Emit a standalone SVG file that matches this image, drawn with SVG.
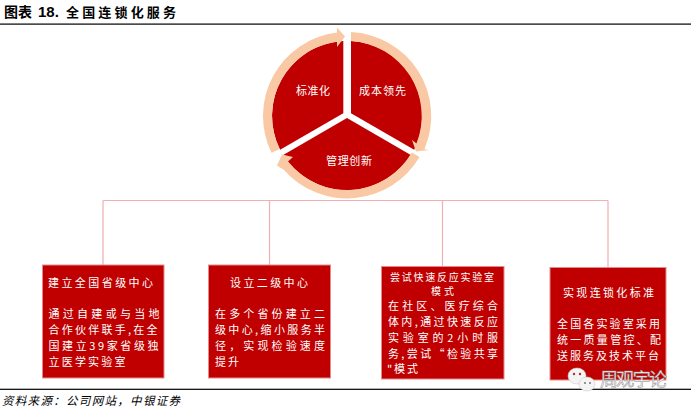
<svg xmlns="http://www.w3.org/2000/svg" width="691" height="412" viewBox="0 0 691 412">
<style>
text{font-family:"Noto Sans CJK SC","Liberation Sans",sans-serif}
.box{fill:#c00000;stroke:#e58a8a;stroke-width:1}
.w{fill:#fff;font-size:11px}
.h{fill:#fff;font-size:11px}
.t{fill:#fff;font-size:10px}
.s{fill:#c00000}
.r{fill:#f8c9a4}
.c{fill:none;stroke:#eeb0b0;stroke-width:1.2}
</style>
<rect width="691" height="412" fill="#fff"/>
<g id="header">
<text x="4" y="17" font-size="14" font-weight="700" textLength="28">图表</text>
<text x="38" y="17" font-size="15" font-weight="700" style="font-family:'Liberation Sans',sans-serif">18.</text>
<text x="66" y="17" font-size="13" font-weight="700" textLength="110">全国连锁化服务</text>
<rect x="0" y="23.500" width="691" height="1.200" fill="#000"/>
</g>
<g id="connectors">
<path class="c" d="M103 200.500H608M103 200.500V265M269.500 200.500V265M442.500 200.500V266M608 200.500V267"/>
</g>
<g id="cycle">
<path id="sector-standard" class="s" d="M343.300 113.300V40.900A75.200 75.200 0 0 0 280.100 149.800Z"/>
<path id="sector-cost" class="s" d="M351 113.300V40.900A75.200 75.200 0 0 1 414.200 149.800Z"/>
<path id="sector-manage" class="s" d="M347 119L410.800 155.900A75.200 75.200 0 0 1 283.200 155.900Z" transform="translate(0,-1)"/>
<path id="arrow-left" class="r" d="M271.500 152.800A84 84 0 0 1 337 32.600V27.500L345 36.500L337 47V41.700A75 75 0 0 0 279.600 148.900Z"/>
<path id="arrow-right" class="r" d="M351 32.100A84 84 0 0 1 424.500 149L428.500 150L416 151.500L412 140L416.500 143.500A75 75 0 0 0 351 41.100Z"/>
<path id="arrow-bottom" class="r" d="M419.500 158.400A84 84 0 0 1 284 171.500L277 167L282 156L293 158.500L288 163A75 75 0 0 0 411.800 154Z" transform="translate(0,-1.500)"/>
<text class="w" x="296" y="95" textLength="34">标准化</text>
<text class="w" x="359" y="95" textLength="47">成本领先</text>
<text class="w" x="326" y="165" textLength="46">管理创新</text>
</g>
<g id="node-province">
<rect class="box" x="42.500" y="265" width="121.500" height="113"/>
<text class="h" x="48" y="287" textLength="105">建立全国省级中心</text>
<text class="w" x="48.500" y="318" textLength="111">通过自建或与当地</text>
<text class="w" x="48.500" y="334" textLength="109">合作伙伴联手,在全</text>
<text class="w" x="48.500" y="350" textLength="110">国建立39家省级独</text>
<text class="w" x="48.500" y="366" textLength="77">立医学实验室</text>
</g>
<g id="node-second">
<rect class="box" x="208.500" y="265" width="122" height="113"/>
<text class="h" x="230" y="287" textLength="78">设立二级中心</text>
<text class="w" x="215" y="318" textLength="110">在多个省份建立二</text>
<text class="w" x="215" y="334" textLength="110">级中心,缩小服务半</text>
<text class="w" x="215" y="350" textLength="110">径，实现检验速度</text>
<text class="w" x="215" y="366" textLength="24">提升</text>
</g>
<g id="node-rapid">
<rect class="box" x="381.500" y="266.500" width="122.500" height="112.500"/>
<text class="t" x="390" y="280.500" textLength="104">尝试快速反应实验室</text>
<text class="t" x="431" y="295" textLength="23">模式</text>
<text class="w" x="388" y="310" textLength="110">在社区、医疗综合</text>
<text class="w" x="388" y="326" textLength="110">体内,通过快速反应</text>
<text class="w" x="388" y="342" textLength="110">实验室的2小时服</text>
<text class="w" x="388" y="358" textLength="110">务,尝试“检验共享</text>
<text class="w" x="387" y="373" textLength="31">"模式</text>
</g>
<g id="node-standard">
<rect class="box" x="550" y="267.500" width="116" height="112.500"/>
<text class="h" x="563" y="297" textLength="91">实现连锁化标准</text>
<text class="w" x="557" y="328" textLength="103">全国各实验室采用</text>
<text class="w" x="557" y="344" textLength="104">统一质量管控、配</text>
<text class="w" x="557" y="360" textLength="102">送服务及技术平台</text>
</g>
<g id="footer">
<rect x="0" y="388.700" width="691" height="1.200" fill="#000"/>
<text x="2" y="405" font-size="11.500" font-style="italic" fill="#000" textLength="178">资料来源：公司网站，中银证券</text>
</g>
<g id="watermark">
<ellipse cx="577" cy="376" rx="9" ry="8" fill="#f4f4f4" stroke="#ccc" stroke-width=".6"/>
<ellipse cx="587" cy="384" rx="8" ry="7" fill="#f4f4f4" stroke="#ccc" stroke-width=".6"/>
<circle cx="574" cy="374" r="1.200" fill="#a33"/>
<circle cx="580" cy="374" r="1.200" fill="#a33"/>
<circle cx="585" cy="383" r="1" fill="#777"/>
<circle cx="590" cy="383" r="1" fill="#777"/>
<text x="600" y="386" font-size="18" fill="#fff" stroke="#888" stroke-width=".5" textLength="67">周观宇论</text>
</g>
</svg>
